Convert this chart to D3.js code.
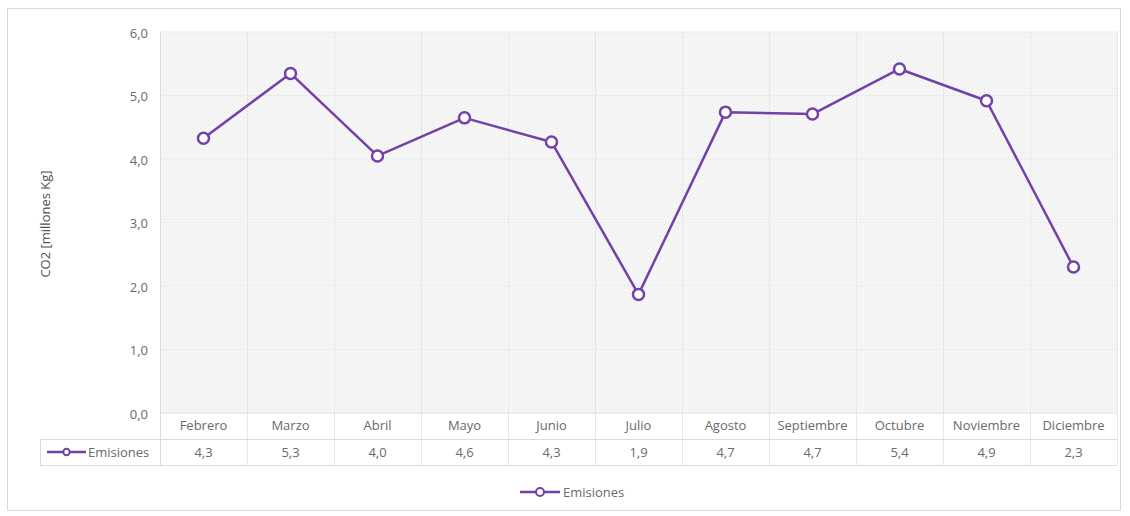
<!DOCTYPE html>
<html>
<head>
<meta charset="utf-8">
<script src="https://cdn.jsdelivr.net/npm/d3@7"></script>
<style>
  html, body { margin: 0; padding: 0; background: #ffffff; }
  svg { display: block; font-family: "Open Sans", "Liberation Sans", sans-serif; }
</style>
</head>
<body>
<svg id="chart" width="1130" height="516"></svg>
<script>
// ---- Data ----
const categories = ["Febrero", "Marzo", "Abril", "Mayo", "Junio", "Julio", "Agosto", "Septiembre", "Octubre", "Noviembre", "Diciembre"];
const emisiones = [4.32, 5.34, 4.04, 4.64, 4.26, 1.86, 4.73, 4.70, 5.41, 4.91, 2.29];
const seriesName = "Emisiones";
const yTicks = [0, 1, 2, 3, 4, 5, 6];
const yTitle = "CO2 [millones Kg]";

// ---- Layout ----
const plot = { left: 160, right: 1117, top: 31.5, bottom: 412.5 };
const rowH1 = 26.5, rowH2 = 26;
const legendColLeft = 40;
const purple = "#7341a8";
const textColor = "#6a6a6a";
const gridColor = "#dcdcdc";

const svg = d3.select("#chart");
const fmt = v => d3.format(".1f")(v).replace(".", ",");

// chart border
svg.append("rect").attr("x", 7.5).attr("y", 8.5).attr("width", 1113).attr("height", 502)
  .attr("fill", "#ffffff").attr("stroke", "#d9d9d9").attr("stroke-width", 1);

// pattern for plot area
const defs = svg.append("defs");
const pat = defs.append("pattern").attr("id", "dots").attr("patternUnits", "userSpaceOnUse")
  .attr("width", 4).attr("height", 4);
pat.append("rect").attr("width", 4).attr("height", 4).attr("fill", "#f6f6f6");
pat.append("rect").attr("x", 0).attr("y", 0).attr("width", 1).attr("height", 1).attr("fill", "#e9e9e9");
pat.append("rect").attr("x", 2).attr("y", 2).attr("width", 1).attr("height", 1).attr("fill", "#e9e9e9");

// scales
const x = d3.scaleBand().domain(categories).range([plot.left, plot.right]).paddingInner(0).paddingOuter(0);
const y = d3.scaleLinear().domain([0, 6]).range([plot.bottom, plot.top]);

svg.append("rect").attr("x", plot.left).attr("y", plot.top)
  .attr("width", plot.right - plot.left).attr("height", plot.bottom - plot.top)
  .attr("fill", "url(#dots)");

// horizontal gridlines
svg.append("g").selectAll("line").data(yTicks.slice(1)).join("line")
  .attr("x1", plot.left).attr("x2", plot.right)
  .attr("y1", d => y(d) + 0.5).attr("y2", d => y(d) + 0.5)
  .attr("stroke", "#ececec").attr("stroke-width", 1);

// vertical gridlines through plot and table
const bounds = categories.map(c => x(c)).concat([plot.right]);
svg.append("g").selectAll("line").data(bounds).join("line")
  .attr("x1", d => Math.round(d) + 0.5).attr("x2", d => Math.round(d) + 0.5)
  .attr("y1", plot.top).attr("y2", plot.bottom + rowH1 + rowH2)
  .attr("stroke", (d, i) => (i === 0 ? gridColor : "#e8e8e8")).attr("stroke-width", 1);

// y axis with tick labels
const yAxis = d3.axisLeft(y).tickValues(yTicks).tickFormat(fmt).tickSize(0).tickPadding(12);
const yg = svg.append("g").attr("transform", `translate(${plot.left},1.5)`).call(yAxis);
yg.select(".domain").remove();
yg.selectAll("text").attr("fill", textColor).attr("font-size", 13).attr("font-family", "Open Sans, sans-serif");

// y title
svg.append("text")
  .attr("transform", `translate(50,${(plot.top + plot.bottom) / 2 + 2}) rotate(-90)`)
  .attr("text-anchor", "middle").attr("fill", "#505050").attr("font-size", 13)
  .text(yTitle);

// data table
const tY0 = plot.bottom, tY1 = plot.bottom + rowH1, tY2 = plot.bottom + rowH1 + rowH2;
const tbl = svg.append("g");
tbl.append("line").attr("x1", plot.left).attr("x2", plot.right).attr("y1", tY0 + 0.5).attr("y2", tY0 + 0.5)
  .attr("stroke", gridColor);
tbl.append("line").attr("x1", legendColLeft).attr("x2", plot.right).attr("y1", tY1 + 0.5).attr("y2", tY1 + 0.5)
  .attr("stroke", gridColor);
tbl.append("line").attr("x1", legendColLeft).attr("x2", plot.right).attr("y1", tY2 + 0.5).attr("y2", tY2 + 0.5)
  .attr("stroke", gridColor);
tbl.append("line").attr("x1", legendColLeft + 0.5).attr("x2", legendColLeft + 0.5).attr("y1", tY1).attr("y2", tY2)
  .attr("stroke", gridColor);

tbl.selectAll("text.cat").data(categories).join("text").attr("class", "cat")
  .attr("x", d => x(d) + x.bandwidth() / 2).attr("y", (tY0 + tY1) / 2)
  .attr("dy", "0.35em").attr("text-anchor", "middle")
  .attr("fill", textColor).attr("font-size", 13).text(d => d);

tbl.selectAll("text.val").data(emisiones).join("text").attr("class", "val")
  .attr("x", (d, i) => x(categories[i]) + x.bandwidth() / 2).attr("y", (tY1 + tY2) / 2)
  .attr("dy", "0.35em").attr("text-anchor", "middle")
  .attr("fill", textColor).attr("font-size", 13).text(d => fmt(d));

// legend key helper
function legendKey(g, x0, x1, cy, r) {
  g.append("line").attr("x1", x0).attr("x2", x1).attr("y1", cy).attr("y2", cy)
    .attr("stroke", purple).attr("stroke-width", 2.5);
  g.append("circle").attr("cx", (x0 + x1) / 2).attr("cy", cy).attr("r", r)
    .attr("fill", "#fff").attr("stroke", purple).attr("stroke-width", 2);
}
const tk = tbl.append("g");
legendKey(tk, 47, 86, (tY1 + tY2) / 2, 3.2);
tk.append("text").attr("x", 88).attr("y", (tY1 + tY2) / 2).attr("dy", "0.35em")
  .attr("fill", textColor).attr("font-size", 13).text(seriesName);

// series line
const line = d3.line().x((d, i) => x(categories[i]) + x.bandwidth() / 2).y(d => y(d));
svg.append("path").datum(emisiones).attr("d", line)
  .attr("fill", "none").attr("stroke", purple).attr("stroke-width", 2.5).attr("stroke-linejoin", "round");
svg.append("g").selectAll("circle").data(emisiones).join("circle")
  .attr("cx", (d, i) => x(categories[i]) + x.bandwidth() / 2).attr("cy", d => y(d)).attr("r", 5.5)
  .attr("fill", "#ffffff").attr("stroke", purple).attr("stroke-width", 2.5);

// bottom legend
const lg = svg.append("g");
legendKey(lg, 520, 560, 492, 4);
lg.append("text").attr("x", 563).attr("y", 492).attr("dy", "0.35em")
  .attr("fill", textColor).attr("font-size", 13).text(seriesName);
</script>
</body>
</html>
